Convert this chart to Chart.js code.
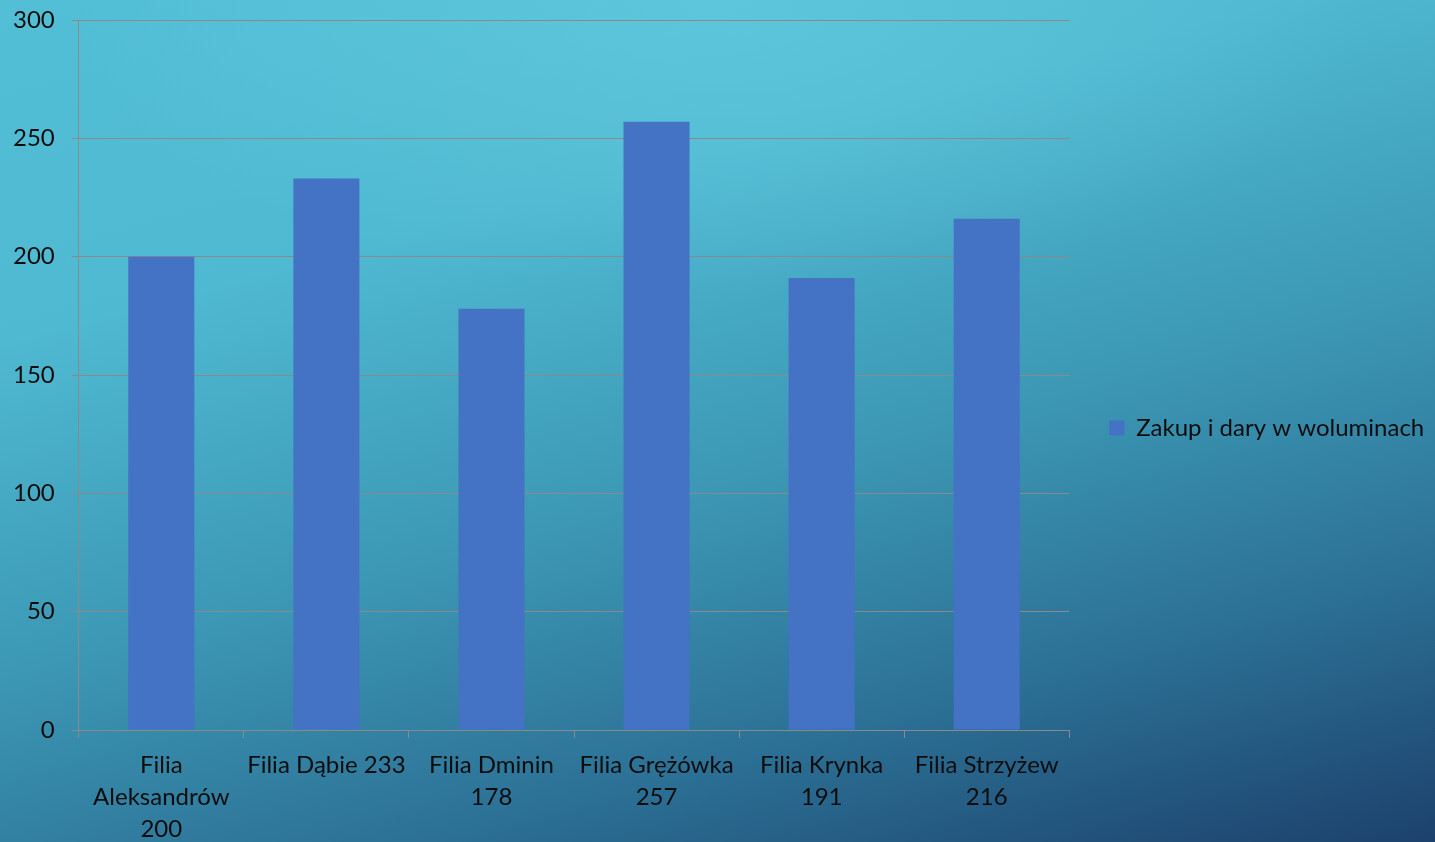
<!DOCTYPE html>
<html lang="pl">
<head>
    <meta charset="UTF-8">
    <title>Zakup i dary w woluminach</title>
    <style>
        html, body { margin: 0; padding: 0; overflow: hidden; }
        body {
            width: 1435px; height: 842px;
            background:
                radial-gradient(ellipse 45% 35% at 50% 0%, rgba(110,210,230,0.45) 0%, rgba(110,210,230,0) 100%),
                linear-gradient(165deg, #52bfd6 0%, #4fb9d1 28%, #3c98b5 55%, #2c7095 78%, #1c416c 100%);
        }
        #wrap { width: 1435px; height: 856px; position: relative; }
    </style>
</head>
<body>
    <div id="wrap">
        <canvas id="myChart"></canvas>
    </div>

    <script src="https://cdn.jsdelivr.net/npm/chart.js@4/dist/chart.umd.min.js"></script>
    <script>
    // dane z wykresu
    var v_labels = [
        ['Filia', 'Aleksandrów', '200'],
        'Filia Dąbie 233',
        ['Filia Dminin', '178'],
        ['Filia Grężówka', '257'],
        ['Filia Krynka', '191'],
        ['Filia Strzyżew', '216']
    ];
    var v_values = [200, 233, 178, 257, 191, 216];
    var v_seriesName = 'Zakup i dary w woluminach';
    var v_yTicks = [0, 50, 100, 150, 200, 250, 300];

    var v_font = { family: 'Lato, "Open Sans", sans-serif', size: 24 };
    var v_gridColor = '#8a8a8a';

    const ctx = document.getElementById('myChart').getContext('2d');
    const myChart = new Chart(ctx, {
        type: 'bar',
        data: {
            labels: v_labels,
            datasets: [{
                label: v_seriesName,
                data: v_values,
                backgroundColor: '#4472C4',
                borderWidth: 0,
                categoryPercentage: 1,
                barPercentage: 0.4
            }]
        },
        options: {
            responsive: true,
            maintainAspectRatio: false,
            animation: false,
            // ujemny margines kompensuje podwojny padding osi w Chart.js
            layout: { padding: { left: -4, top: 0, right: 8, bottom: 0 } },
            plugins: {
                tooltip: { enabled: false },
                legend: {
                    position: 'right',
                    labels: {
                        color: '#0d0d0d',
                        font: v_font,
                        boxWidth: 15,
                        boxHeight: 15,
                        padding: 40
                    }
                }
            },
            scales: {
                y: {
                    min: 0,
                    max: 300,
                    afterBuildTicks: function(axis) {
                        axis.ticks = v_yTicks.map(function(v) { return { value: v }; });
                    },
                    afterFit: function(axis) {
                        axis.paddingTop = 20; // gorna linia na y=20
                    },
                    ticks: { color: '#0d0d0d', font: v_font, padding: 17 },
                    grid: { color: v_gridColor, lineWidth: 1, tickLength: 7 },
                    border: { color: v_gridColor, width: 1 }
                },
                x: {
                    ticks: { color: '#0d0d0d', font: { family: v_font.family, size: 24, lineHeight: 1.333 }, padding: 11, maxRotation: 0, autoSkip: false },
                    grid: { drawOnChartArea: false, drawTicks: true, tickLength: 8, color: v_gridColor, offset: true },
                    border: { color: v_gridColor, width: 1 }
                }
            }
        }
    });
    </script>
</body>
</html>
